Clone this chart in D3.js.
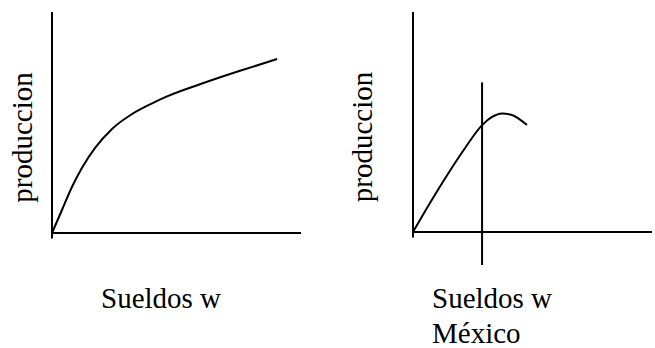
<!DOCTYPE html>
<html>
<head>
<meta charset="utf-8">
<script src="https://cdn.jsdelivr.net/npm/d3@7"></script>
<style>
  body { margin: 0; background: #fff; }
</style>
</head>
<body>
<svg></svg>
<script>
const w = 655
const h = 348
const font = 'Liberation Serif, DejaVu Serif, serif'

// curve values (sueldo, produccion), both axes 0..100
const sueldoLeft = [0, 4, 8, 12, 17.3, 24.1, 32.1, 41.4, 46.2, 59.4, 75.5, 90.4]
const prodLeft = [0, 10.4, 20.8, 29.4, 38.5, 47.1, 53.8, 59.3, 61.8, 67.3, 73.4, 78.7]

const sueldoRight = [0, 7.1, 14.6, 21.8, 28.9, 33.1, 37.2, 41.4, 47.7]
const prodRight = [0, 13.2, 26.4, 38.2, 48.6, 52.3, 53.9, 53.2, 48.6]

// vertical marker on the right panel (Mexico wage level)
const sueldoMexico = 28.9
const markerRange = [-15, 68]

const yLabel = 'produccion'
const xLabel = 'Sueldos w'
const xLabel2 = 'México'

const svg = d3.select('svg')
  .attr('width', w)
  .attr('height', h);

const panels = [
  {x: sueldoLeft, y: prodLeft, left: 52, right: 301, top: 12, bottom: 233, labelX: 32, xLabelX: 101},
  {x: sueldoRight, y: prodRight, left: 413, right: 652, top: 12, bottom: 232, labelX: 372, xLabelX: 432, marker: true}
]

panels.forEach(p => {
  const xScale = d3.scaleLinear()
    .domain([0, 100])
    .range([p.left, p.right]);

  const yScale = d3.scaleLinear()
    .domain([0, 100])
    .range([p.bottom, p.top]);

  const g = svg.append('g');

  // axes: plain lines, no ticks
  g.append('line')
    .attr('x1', xScale(0)).attr('x2', xScale(0))
    .attr('y1', yScale(100)).attr('y2', yScale(-2.5))
    .attr('stroke', 'black').attr('stroke-width', 2);

  g.append('line')
    .attr('x1', xScale(0)).attr('x2', xScale(100))
    .attr('y1', yScale(0)).attr('y2', yScale(0))
    .attr('stroke', 'black').attr('stroke-width', 2);

  const pts = p.x.map((d, i) => [d, p.y[i]]);

  const line = d3.line()
    .x(d => xScale(d[0]))
    .y(d => yScale(d[1]))
    .curve(d3.curveMonotoneX);

  g.append('path')
    .datum(pts)
    .attr('d', line)
    .attr('fill', 'none')
    .attr('stroke', 'black')
    .attr('stroke-width', 2);

  if (p.marker) {
    g.append('line')
      .attr('x1', xScale(sueldoMexico)).attr('x2', xScale(sueldoMexico))
      .attr('y1', yScale(markerRange[1])).attr('y2', yScale(markerRange[0]))
      .attr('stroke', 'black').attr('stroke-width', 2);
  }

  // y label, rotated
  g.append('text')
    .attr('transform', `translate(${p.labelX}, ${(p.top + p.bottom) / 2 + 15}) rotate(-90)`)
    .attr('text-anchor', 'middle')
    .style('font-family', font)
    .style('font-size', '29px')
    .attr('fill', 'black')
    .text(yLabel);

  g.append('text')
    .attr('x', p.xLabelX)
    .attr('y', 308)
    .style('font-family', font)
    .style('font-size', '29px')
    .attr('fill', 'black')
    .text(xLabel);

  if (p.marker) {
    g.append('text')
      .attr('x', p.xLabelX)
      .attr('y', 343)
      .style('font-family', font)
      .style('font-size', '29px')
      .attr('fill', 'black')
      .text(xLabel2);
  }
})
</script>
</body>
</html>
